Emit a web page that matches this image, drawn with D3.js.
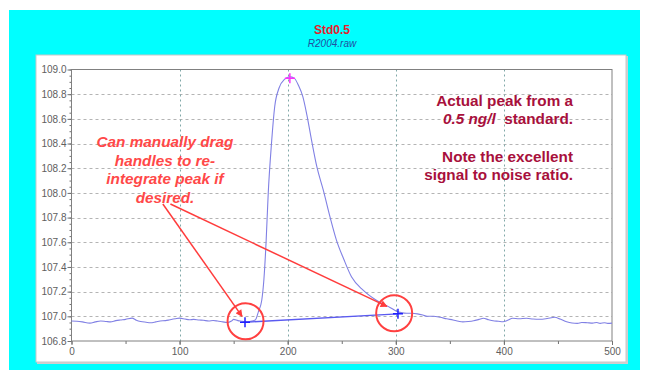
<!DOCTYPE html>
<html>
<head>
<meta charset="utf-8">
<script src="https://cdn.jsdelivr.net/npm/d3@7"></script>
<style>
  body { margin: 0; background: #fff; }
  svg { display: block; font-family: Arial, "Liberation Sans", sans-serif; }
</style>
</head>
<body>
<svg id="chart" width="646" height="373"></svg>
<script>
// trace (x = scan, y = signal)
const traceX = [0, 5, 10, 17, 22, 27, 32, 36, 41, 45, 50, 56, 60, 64, 69, 73, 78, 82, 87, 91,
  96, 100, 105, 109, 113, 118, 122, 127, 131, 135, 140, 144, 148, 150, 154, 158, 161, 165, 170,
  173, 176, 178, 180, 182, 185, 188, 192, 197, 202, 206, 210, 214, 218, 222, 227, 233, 239,
  245, 252, 259, 270, 282, 295, 301, 305, 310, 315, 320, 325, 329, 335, 341, 347, 353, 358,
  362, 367, 372, 377, 381, 386, 390, 395, 399, 404, 408, 414, 421, 427, 433, 440, 447, 452,
  458, 463, 468, 472, 477, 482, 486, 489, 493, 496, 500];
const traceY = [106.962, 106.960, 106.955, 106.945, 106.955, 106.962, 106.958, 106.955, 106.965,
  106.970, 106.975, 106.985, 106.968, 106.958, 106.952, 106.948, 106.955, 106.962, 106.965,
  106.972, 106.980, 106.985, 106.978, 106.972, 106.975, 106.970, 106.968, 106.962, 106.966,
  106.962, 106.955, 106.950, 106.962, 106.975, 106.965, 106.960, 106.955, 106.958, 106.970,
  107.04, 107.13, 107.30, 107.60, 108.00, 108.40, 108.70, 108.85, 108.92, 108.94, 108.93,
  108.87, 108.78, 108.62, 108.43, 108.21, 108.02, 107.81, 107.62, 107.46, 107.32, 107.21,
  107.13, 107.07, 107.04, 107.03, 107.025, 107.025, 107.02, 107.01, 107.00, 107.00, 106.992,
  106.980, 106.970, 106.960, 106.955, 106.958, 106.964, 106.975, 106.984, 106.972, 106.964,
  106.960, 106.956, 106.970, 106.984, 106.980, 106.984, 106.978, 106.976, 106.982, 106.992,
  106.978, 106.956, 106.946, 106.943, 106.950, 106.948, 106.945, 106.950, 106.943, 106.948,
  106.943, 106.945];

const handleX = [160.5, 302];
const handleY = [106.952, 107.02];
const peakX = 202;
const peakY = 108.93;
const circleX = [161, 298.5];
const circleY = [106.96, 107.025];

// arrows: start near the note, tip inside each circle
const arrowX0 = [84.5, 91.5];
const arrowY0 = [107.91, 107.91];
const arrowX1 = [157.8, 291.8];
const arrowY1 = [107.0, 107.08];

const xTicks = [0, 100, 200, 300, 400, 500];
const yTicks = [106.8, 107.0, 107.2, 107.4, 107.6, 107.8, 108.0, 108.2, 108.4, 108.6, 108.8, 109.0];

const leftNote = ['Can manually drag', 'handles to re-', 'integrate peak if', 'desired.'];

const svg = d3.select('#chart');

// backgrounds
svg.append('rect').attr('x', 9).attr('y', 10).attr('width', 631).attr('height', 360).attr('fill', '#00ffff');
svg.append('rect').attr('x', 37).attr('y', 56).attr('width', 591).attr('height', 308)
  .attr('fill', '#d0d0d0');
svg.append('rect').attr('x', 36).attr('y', 55).attr('width', 590).attr('height', 307)
  .attr('fill', '#ffffff').attr('stroke', '#c8c8c8').attr('stroke-width', 1);

svg.append('text').attr('x', 332).attr('y', 34).attr('text-anchor', 'middle')
  .attr('font-size', 12).attr('font-weight', 'bold').attr('fill', '#e8202a').text('Std0.5');
svg.append('text').attr('x', 332).attr('y', 47).attr('text-anchor', 'middle')
  .attr('font-size', 10).attr('font-style', 'italic').attr('fill', '#2050a0').text('R2004.raw');

const margin = { left: 71.5, right: 612, top: 69.5, bottom: 341 };

const x = d3.scaleLinear().domain([0, 500]).range([margin.left, margin.right]);
const y = d3.scaleLinear().domain([106.8, 109.0]).range([margin.bottom, margin.top]);

// grid
svg.append('g').selectAll('line').data(yTicks.slice(1, -1)).join('line')
  .attr('x1', margin.left).attr('x2', margin.right)
  .attr('y1', d => Math.round(y(d)) + 0.5).attr('y2', d => Math.round(y(d)) + 0.5)
  .attr('stroke', '#b4b4b4').attr('stroke-dasharray', '3,3');
svg.append('g').selectAll('line').data(xTicks.slice(1, -1)).join('line')
  .attr('x1', d => Math.round(x(d)) + 0.5).attr('x2', d => Math.round(x(d)) + 0.5)
  .attr('y1', margin.top).attr('y2', margin.bottom)
  .attr('stroke', '#80a8a8').attr('stroke-dasharray', '2,3');

// axes
const yAxis = svg.append('g').attr('transform', 'translate(' + margin.left + ',0)')
  .call(d3.axisLeft(y).tickValues(d3.range(106.8, 109.001, 0.05)).tickSize(2).tickFormat(''));
yAxis.select('.domain').remove();
yAxis.selectAll('line').attr('stroke', '#707070');
const yMajor = svg.append('g').attr('transform', 'translate(' + margin.left + ',0)')
  .call(d3.axisLeft(y).tickValues(yTicks).tickSize(4).tickPadding(1).tickFormat(d3.format('.1f')));
yMajor.select('.domain').remove();
yMajor.selectAll('line').attr('stroke', '#707070');
yMajor.selectAll('text').attr('font-size', 10).attr('fill', '#606060')
  .attr('font-family', 'Arial, "Liberation Sans", sans-serif');

const xAxis = svg.append('g').attr('transform', 'translate(0,' + margin.bottom + ')')
  .call(d3.axisBottom(x).tickValues(d3.range(0, 501, 50)).tickSize(3).tickFormat(''));
xAxis.select('.domain').remove();
xAxis.selectAll('line').attr('stroke', '#707070');
const xMajor = svg.append('g').attr('transform', 'translate(0,' + margin.bottom + ')')
  .call(d3.axisBottom(x).tickValues(xTicks).tickSize(4).tickPadding(3));
xMajor.select('.domain').remove();
xMajor.selectAll('line').attr('stroke', '#707070');
xMajor.selectAll('text').attr('font-size', 10).attr('fill', '#606060')
  .attr('font-family', 'Arial, "Liberation Sans", sans-serif');

svg.append('rect').attr('x', margin.left).attr('y', margin.top)
  .attr('width', margin.right - margin.left).attr('height', margin.bottom - margin.top)
  .attr('fill', 'none').attr('stroke', '#808080');

// trace
const pts = traceX.map((d, i) => [d, traceY[i]]);
svg.append('path').datum(pts)
  .attr('fill', 'none').attr('stroke', '#8080e4').attr('stroke-width', 1.1)
  .attr('d', d3.line().x(d => x(d[0])).y(d => y(d[1])).curve(d3.curveMonotoneX));

// integration baseline
svg.append('line')
  .attr('x1', x(handleX[0])).attr('y1', y(handleY[0]))
  .attr('x2', x(handleX[1])).attr('y2', y(handleY[1]))
  .attr('stroke', '#5a5af0').attr('stroke-width', 1.4);

// handles + peak marker
function cross(cx, cy, color) {
  svg.append('path')
    .attr('d', 'M' + (cx - 5) + ',' + cy + 'H' + (cx + 5) + 'M' + cx + ',' + (cy - 5) + 'V' + (cy + 5))
    .attr('stroke', color).attr('stroke-width', 1.5);
}
handleX.forEach((d, i) => cross(x(d), y(handleY[i]), '#2020ff'));
cross(x(peakX), y(peakY), '#ff30ff');

// circles
svg.append('g').selectAll('circle').data(circleX).join('circle')
  .attr('cx', d => x(d)).attr('cy', (d, i) => y(circleY[i])).attr('r', 18)
  .attr('fill', 'none').attr('stroke', '#ff4040').attr('stroke-width', 2);

// arrows
svg.append('defs').append('marker').attr('id', 'ah')
  .attr('viewBox', '0 0 10 10').attr('refX', 9).attr('refY', 5)
  .attr('markerWidth', 9).attr('markerHeight', 7).attr('markerUnits', 'userSpaceOnUse')
  .attr('orient', 'auto')
  .append('path').attr('d', 'M0,0L10,5L0,10z').attr('fill', '#ff3c3c');
arrowX0.forEach((d, i) => {
  svg.append('line')
    .attr('x1', x(d)).attr('y1', y(arrowY0[i]))
    .attr('x2', x(arrowX1[i])).attr('y2', y(arrowY1[i]))
    .attr('stroke', '#ff3c3c').attr('stroke-width', 1.5).attr('marker-end', 'url(#ah)');
});

// notes
svg.append('g').selectAll('text').data(leftNote).join('text')
  .attr('x', 165).attr('y', (d, i) => 147 + i * 18.5).attr('text-anchor', 'middle')
  .attr('font-size', 15.3).attr('font-weight', 'bold').attr('font-style', 'italic')
  .attr('fill', '#ff4848').text(d => d);

const rn = svg.append('g').attr('font-size', 15.3).attr('font-weight', 'bold').attr('fill', '#a8103c')
  .attr('text-anchor', 'end');
rn.append('text').attr('x', 573).attr('y', 106).text('Actual peak from a');
const t2 = rn.append('text').attr('x', 573).attr('y', 124);
t2.append('tspan').attr('font-style', 'italic').text('0.5 ng/l');
t2.append('tspan').text('\u00a0 standard.');
rn.append('text').attr('x', 573).attr('y', 162).text('Note the excellent');
rn.append('text').attr('x', 573).attr('y', 180).text('signal to noise ratio.');
</script>
</body>
</html>
